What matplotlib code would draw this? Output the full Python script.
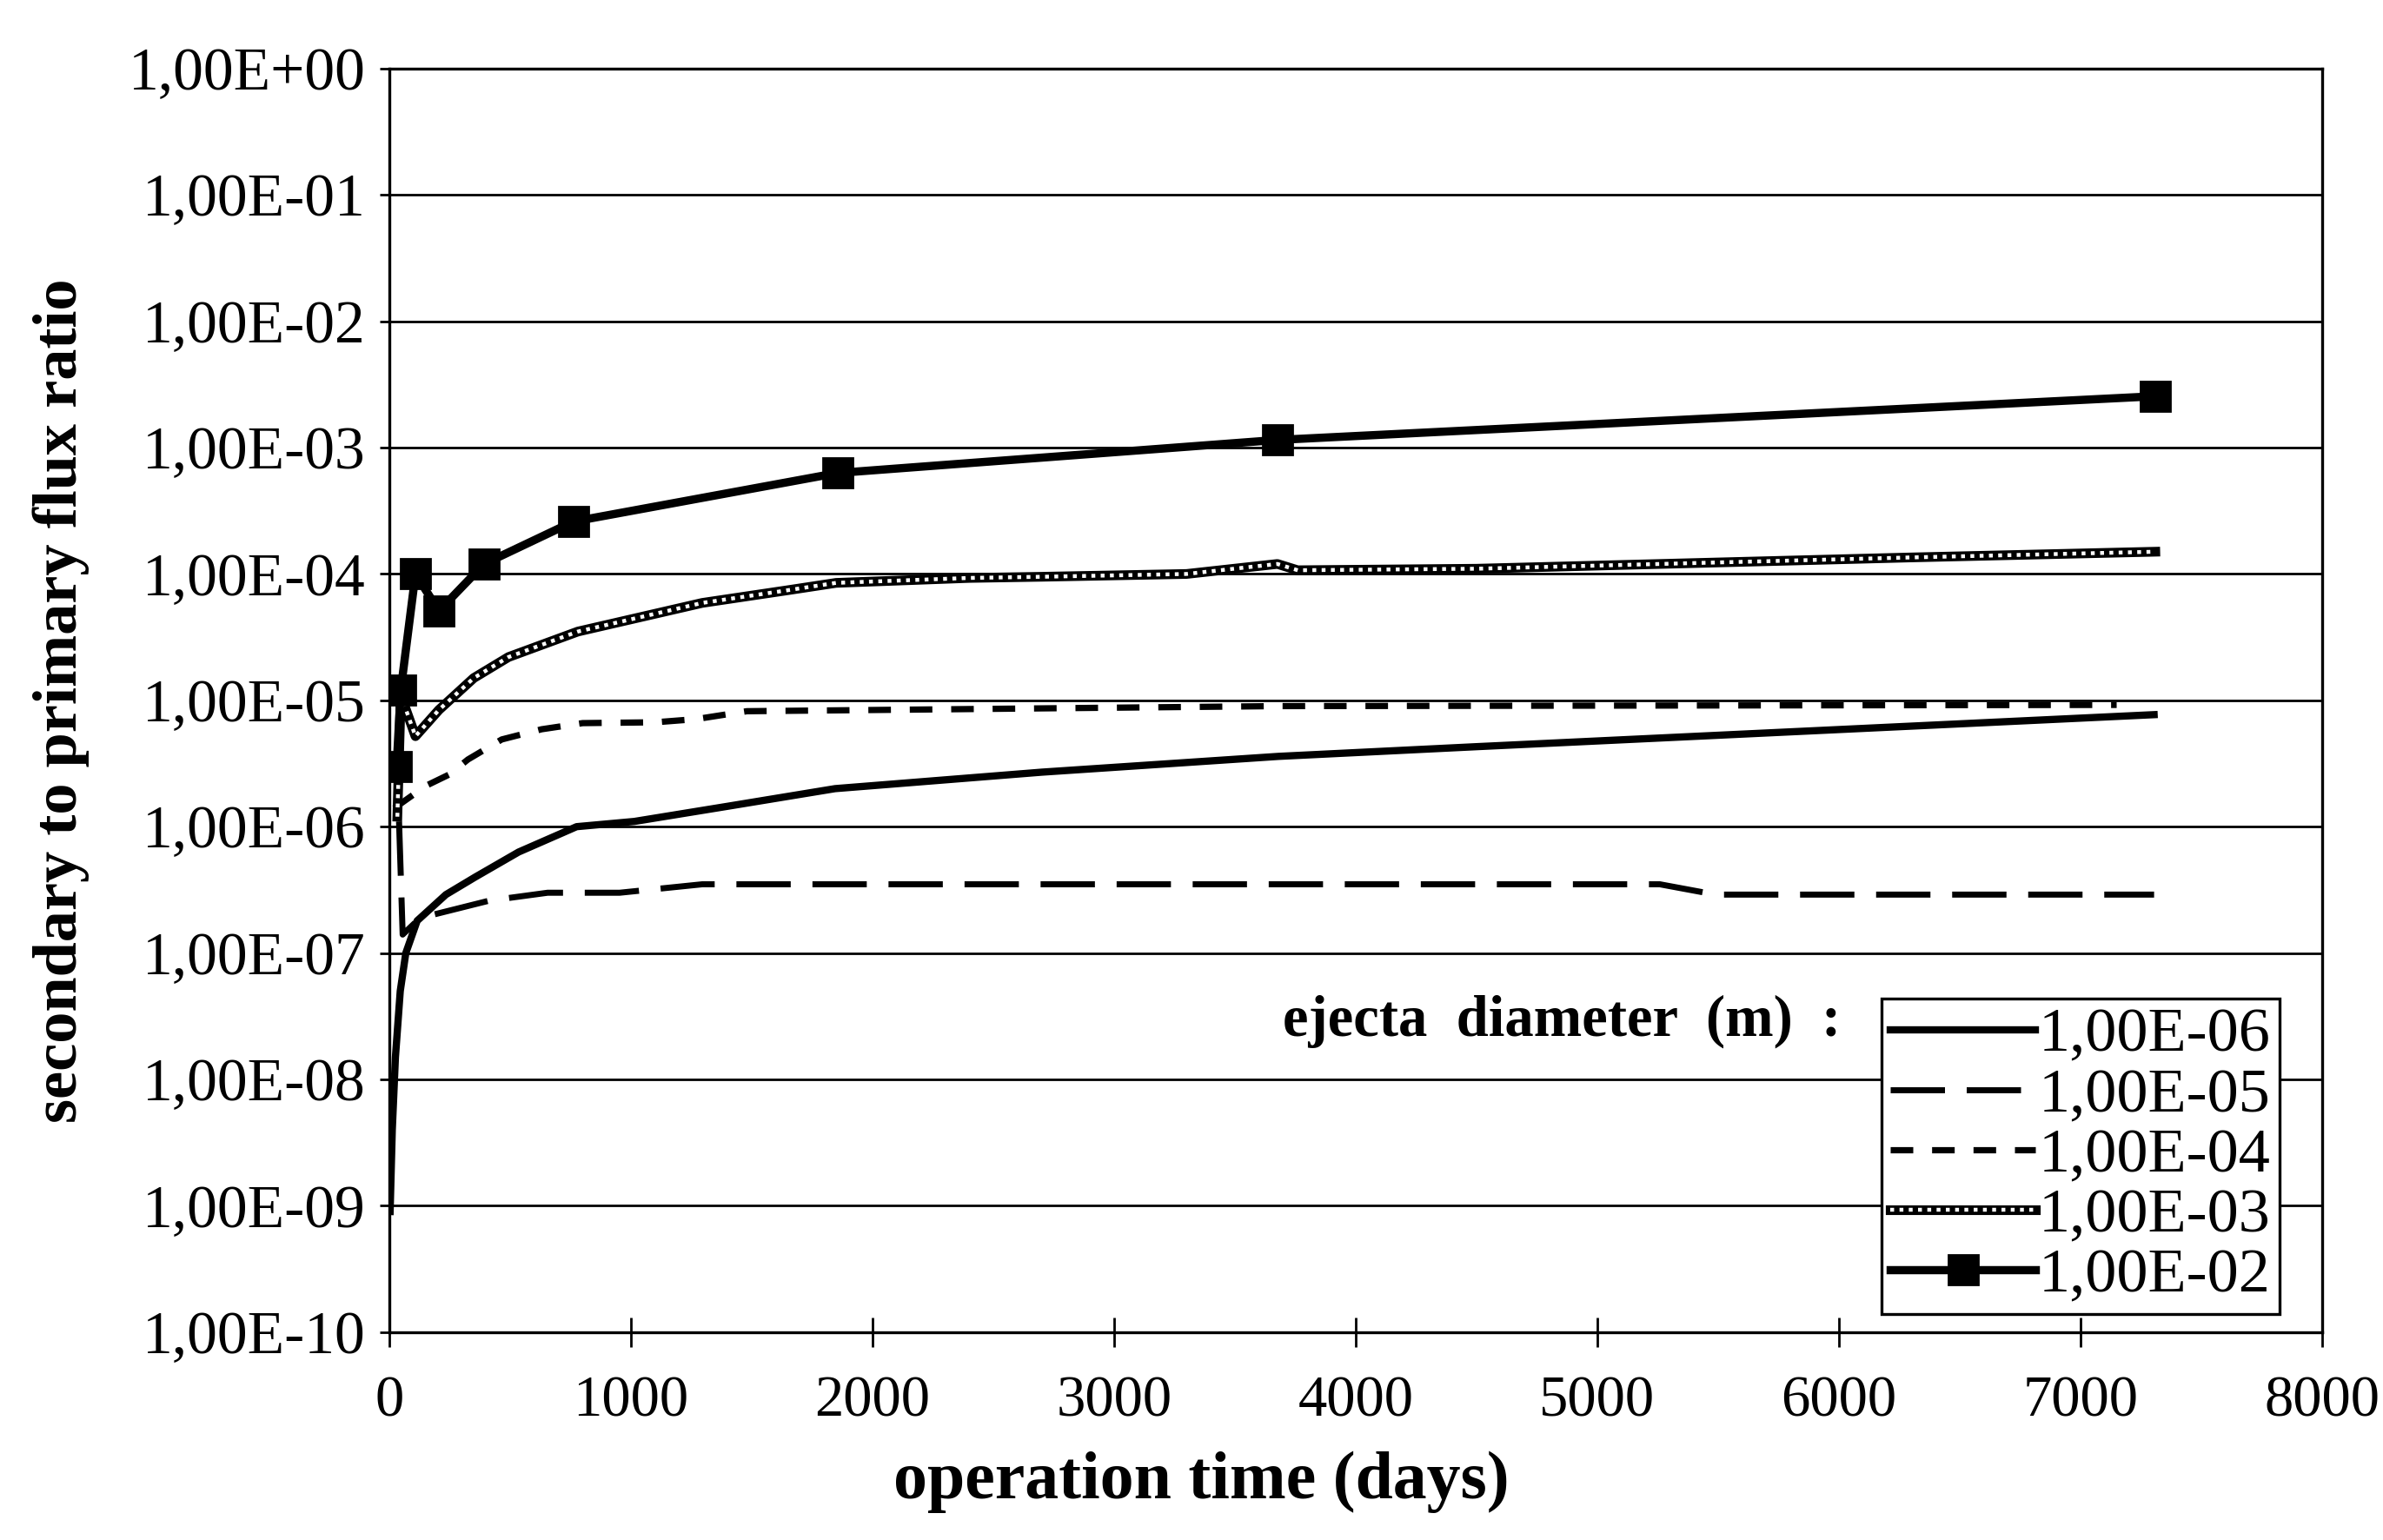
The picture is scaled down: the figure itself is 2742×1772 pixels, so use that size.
import numpy as np
import matplotlib
matplotlib.use("Agg")
import matplotlib.pyplot as plt
from matplotlib.ticker import FixedLocator, FuncFormatter, NullLocator
from matplotlib.legend_handler import HandlerTuple

plt.rcParams['font.family'] = ['Liberation Serif', 'DejaVu Serif']

# values (days, secondary/primary flux ratio)
days_1e6 = [3, 12, 25, 45, 68, 115, 234, 356, 535, 775, 1014, 1400, 1845, 2700, 3680, 4504, 7305]
ratio_1e6 = [9e-10, 4e-9, 1.5e-8, 5e-8, 1e-7, 1.8e-7, 2.9e-7, 4.0e-7, 6.3e-7, 1.0e-6, 1.1e-6,
             1.45e-6, 2.0e-6, 2.7e-6, 3.6e-6, 4.3e-6, 7.7e-6]

days_1e5 = [40, 55, 115, 176, 414, 655, 953, 1295, 1850, 3680, 5259, 5489, 7305]
ratio_1e5 = [1.1e-6, 1.4e-7, 1.8e-7, 2.0e-7, 2.6e-7, 3.0e-7, 3.0e-7, 3.5e-7, 3.5e-7, 3.5e-7,
             3.5e-7, 2.9e-7, 2.9e-7]

days_1e4 = [20, 150, 250, 325, 465, 630, 800, 1100, 1270, 1480, 3680, 7150]
ratio_1e4 = [1.4e-6, 2.1e-6, 2.6e-6, 3.4e-6, 4.9e-6, 5.9e-6, 6.6e-6, 6.7e-6, 7.1e-6, 8.2e-6,
             9.0e-6, 9.2e-6]

days_1e3 = [33, 47, 108, 205, 349, 493, 780, 1295, 1662, 1849, 2400, 2700, 3300, 3676, 3760,
            4500, 6290, 7310]
ratio_1e3 = [1.2e-6, 1.1e-5, 5.2e-6, 8.4e-6, 1.5e-5, 2.2e-5, 3.5e-5, 5.9e-5, 7.5e-5, 8.5e-5,
             9.3e-5, 9.5e-5, 1.0e-4, 1.2e-4, 1.07e-4, 1.1e-4, 1.35e-4, 1.5e-4]

days_1e2 = [30, 47, 108, 205, 392, 762, 1856, 3676, 7310]
ratio_1e2 = [3e-6, 1.2e-5, 1e-4, 5.1e-5, 1.2e-4, 2.6e-4, 6.3e-4, 1.15e-3, 2.55e-3]

labels = ["1,00E-06", "1,00E-05", "1,00E-04", "1,00E-03", "1,00E-02"]
decades = list(range(-10, 1))
xticks = list(range(0, 9000, 1000))

fig = plt.figure(figsize=(13.71, 8.86), dpi=200)
ax = fig.add_axes([0.1634, 0.135, 0.811, 0.8205])

l6, = ax.plot(days_1e6, ratio_1e6, color='k', lw=3.0, zorder=3)
l5, = ax.plot(days_1e5, ratio_1e5, color='k', lw=2.5, ls=(0, (9, 3.6)), zorder=3)
l4, = ax.plot(days_1e4, ratio_1e4, color='k', lw=2.6, ls=(0, (3.6, 3.0)), zorder=3)
l3a, = ax.plot(days_1e3, ratio_1e3, color='k', lw=4.0, zorder=4)
l3b, = ax.plot(days_1e3, ratio_1e3, color='w', lw=1.6, ls=(0, (1, 1.4)), zorder=4)
l2, = ax.plot(days_1e2, ratio_1e2, color='k', lw=3.4, marker='s', ms=12,
              mfc='k', mec='k', zorder=5)

ax.set_yscale('log')
ax.set_ylim(1e-10, 1)
ax.set_xlim(0, 8000)
ax.yaxis.set_major_locator(FixedLocator([10.0 ** d for d in decades]))
ax.yaxis.set_minor_locator(NullLocator())
ax.yaxis.set_major_formatter(FuncFormatter(
    lambda v, pos: "1,00E%+03d" % int(round(np.log10(v)))))
ax.set_xticks(xticks)

ax.grid(axis='y', color='k', lw=1.0)
ax.set_axisbelow(True)
for sp in ax.spines.values():
    sp.set_linewidth(1.2)

ax.tick_params(axis='y', direction='out', length=4, width=1.0, pad=6, labelsize=25)
ax.tick_params(axis='x', direction='inout', length=12, width=1.0, pad=12, labelsize=24)

ax.set_xlabel("operation time (days)", fontsize=28, fontweight='bold')
ax.xaxis.set_label_coords(0.42, -0.094)
ax.set_ylabel("secondary to primary flux ratio", fontsize=26, fontweight='bold')
ax.yaxis.set_label_coords(-0.155, 0.5)

leg = ax.legend([l6, l5, l4, (l3a, l3b), l2], labels,
                handler_map={tuple: HandlerTuple(ndivide=1)},
                loc='lower right', bbox_to_anchor=(0.978, 0.014),
                fontsize=26, handlelength=2.3, handletextpad=0.05,
                labelspacing=0.05, borderpad=0.15, borderaxespad=0,
                frameon=True, fancybox=False, framealpha=1, edgecolor='k')
leg.get_frame().set_linewidth(1.2)
leg.set_zorder(6)

ax.text(0.751, 0.246, "ejecta  diameter  (m)  :", transform=ax.transAxes,
        ha='right', va='center', fontsize=24, fontweight='bold')

fig.savefig("out.png", dpi=200, facecolor='white')
